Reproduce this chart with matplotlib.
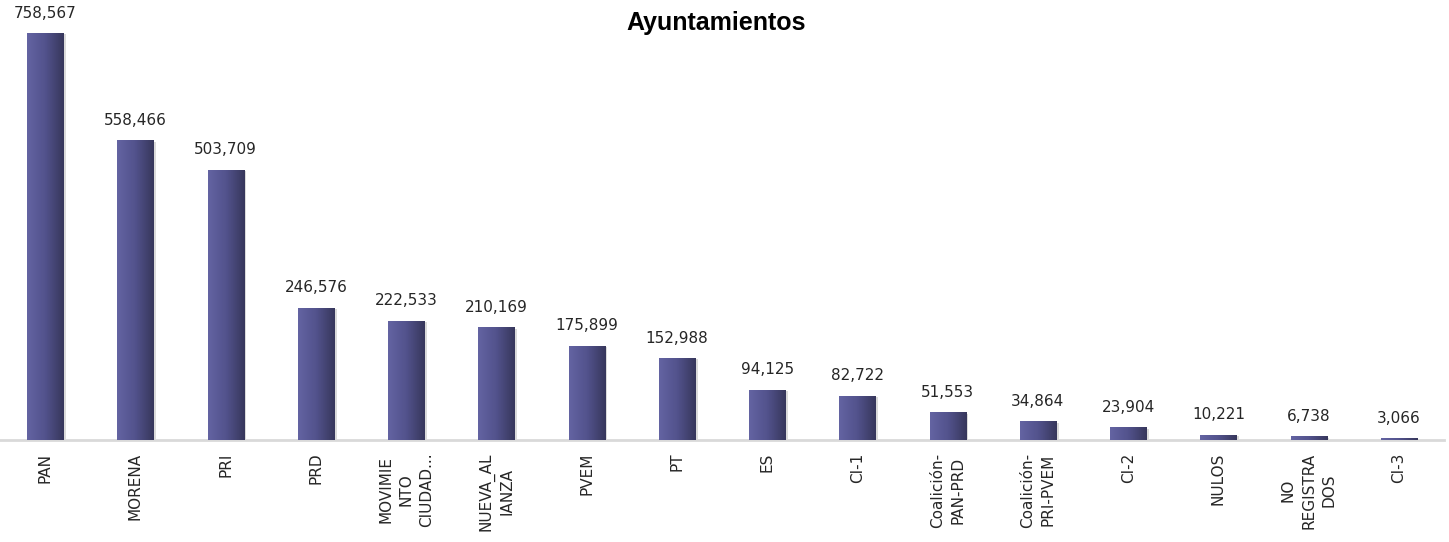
import matplotlib
matplotlib.use('Agg')
import matplotlib.pyplot as plt
import matplotlib.patheffects as pe
from matplotlib.colors import LinearSegmentedColormap
import numpy as np

# data
partidos = ['PAN', 'MORENA', 'PRI', 'PRD', 'MOVIMIE\nNTO\nCIUDAD...', 'NUEVA_AL\nIANZA',
            'PVEM', 'PT', 'ES', 'CI-1', 'Coalición-\nPAN-PRD', 'Coalición-\nPRI-PVEM',
            'CI-2', 'NULOS', 'NO\nREGISTRA\nDOS', 'CI-3']
votos = [758567, 558466, 503709, 246576, 222533, 210169, 175899, 152988,
         94125, 82722, 51553, 34864, 23904, 10221, 6738, 3066]

fig = plt.figure(figsize=(14.49, 5.42), dpi=100)
ax = fig.add_axes([0.0, 0.188, 1444 / 1449, 0.792])

x = np.arange(len(partidos))
bars = ax.bar(x, votos, width=0.4, color='#4a4a7c', zorder=2,
              path_effects=[pe.SimplePatchShadow(offset=(2, -1), shadow_rgbFace='#999999', alpha=0.35),
                            pe.Normal()])

# degradado horizontal en cada barra
cmap = LinearSegmentedColormap.from_list('barra', ['#6464a2', '#52528c', '#37375c'])
grad = np.linspace(0, 1, 64).reshape(1, -1)
for b in bars:
    x0, y0 = b.get_x(), b.get_y()
    im = ax.imshow(grad, cmap=cmap, aspect='auto', zorder=3,
                   extent=(x0, x0 + b.get_width(), y0, y0 + b.get_height()))
    im.set_clip_path(b)

for xi, v in zip(x, votos):
    ax.annotate(f'{v:,}', (xi, v), xytext=(0, 9), textcoords='offset points',
                ha='center', va='bottom', fontsize=11, color='#262626')

ax.set_xlim(-0.5, len(partidos) - 0.5)
ax.set_ylim(0, 800000)
ax.set_xticks(x)
ax.set_xticklabels(partidos, rotation=90, fontsize=11, color='#262626',
                   ha='center', va='top', multialignment='center', linespacing=1.45)
ax.tick_params(axis='x', length=0, pad=9)
ax.set_yticks([])
for s in ['top', 'right', 'left']:
    ax.spines[s].set_visible(False)
ax.spines['bottom'].set_color('#d9d9d9')
ax.spines['bottom'].set_linewidth(2)

fig.text(0.494, 0.957, 'Ayuntamientos', ha='center', va='center',
         fontsize=18, fontweight='bold', family='Liberation Sans')

fig.savefig('out.png', dpi=100)
